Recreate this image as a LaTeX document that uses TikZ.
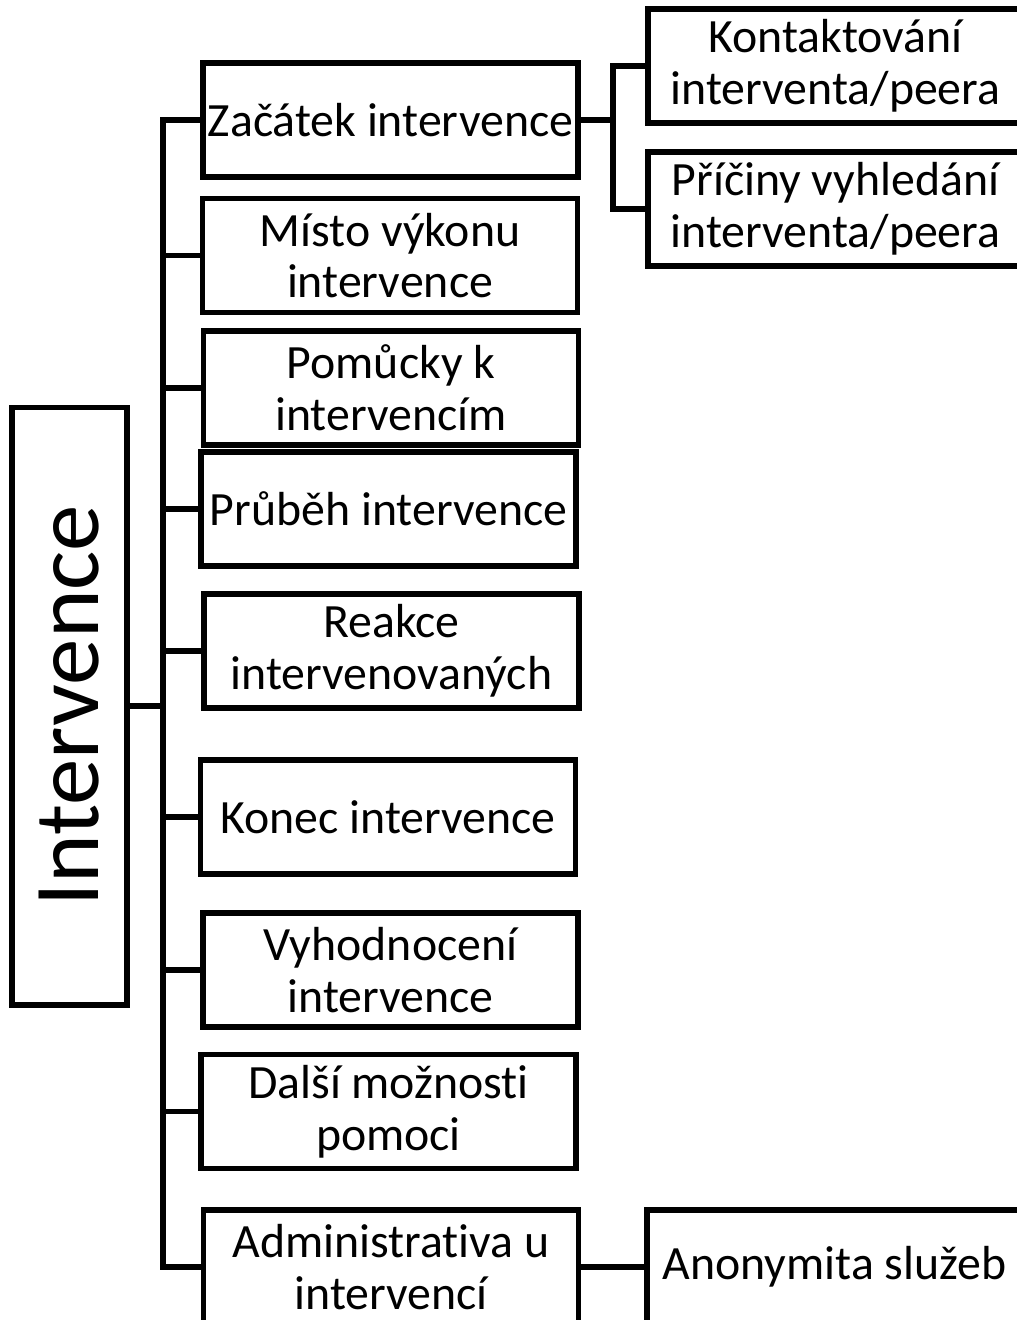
\documentclass[tikz,border=0pt]{standalone}
\usepackage{fontspec}
\setmainfont[Ligatures={NoCommon}]{Carlito}
\usetikzlibrary{positioning}

\begin{document}
\begin{tikzpicture}[x=0.02cm, y=-0.02cm, line width=2.9pt, every node/.style={font=\fontsize{27.2}{29.5}\selectfont}]
\tikzstyle{box}=[draw, minimum width=7.5cm, minimum height=2.28cm, align=center, inner sep=0pt]
\useasboundingbox (0,0) rectangle (1017,1320);
\clip (0,0) rectangle (1017,1320);
\node[draw, rotate=90, minimum width=11.96cm, minimum height=2.3cm, inner sep=0pt, font=\fontsize{52.8}{60}\selectfont] (root) at (69.5,706) {Intervence};
\node[box] (zac) at (390.5,120) {Začátek intervence};
\node[box] (misto) at (390,255.5) {Místo výkonu\\intervence};
\node[box] (pom) at (391,388) {Pomůcky k\\intervencím};
\node[box] (prub) at (388.5,509) {Průběh intervence};
\node[box] (reak) at (391.5,651) {Reakce\\intervenovaných};
\node[box] (kon) at (388,817) {Konec intervence};
\node[box] (vyh) at (390.5,970) {Vyhodnocení\\intervence};
\node[box] (dal) at (388.5,1111.5) {Další možnosti\\pomoci};
\node[box] (adm) at (391,1267) {Administrativa u\\intervencí};
\node[box] (kont) at (835.5,66) {Kontaktování\\interventa/peera};
\node[box] (prici) at (835.5,209) {Příčiny vyhledání\\interventa/peera};
\node[box] (anon) at (834.5,1267) {Anonymita služeb};
\coordinate (trunk) at (163,0);
\coordinate (fork) at (613,0);
% main tree
\draw (root.south) -- (root.south -| trunk);
\draw (zac.west) -| (trunk |- adm.west) -- (adm.west);
\foreach \n in {misto,pom,prub,reak,kon,vyh,dal}
  \draw (\n.west) -- (\n.west -| trunk);
% right side
\draw (zac.east) -- (zac.east -| fork);
\draw (kont.west) -| (fork |- prici.west) -- (prici.west);
\draw (adm.east) -- (anon.west);
\end{tikzpicture}
\end{document}
